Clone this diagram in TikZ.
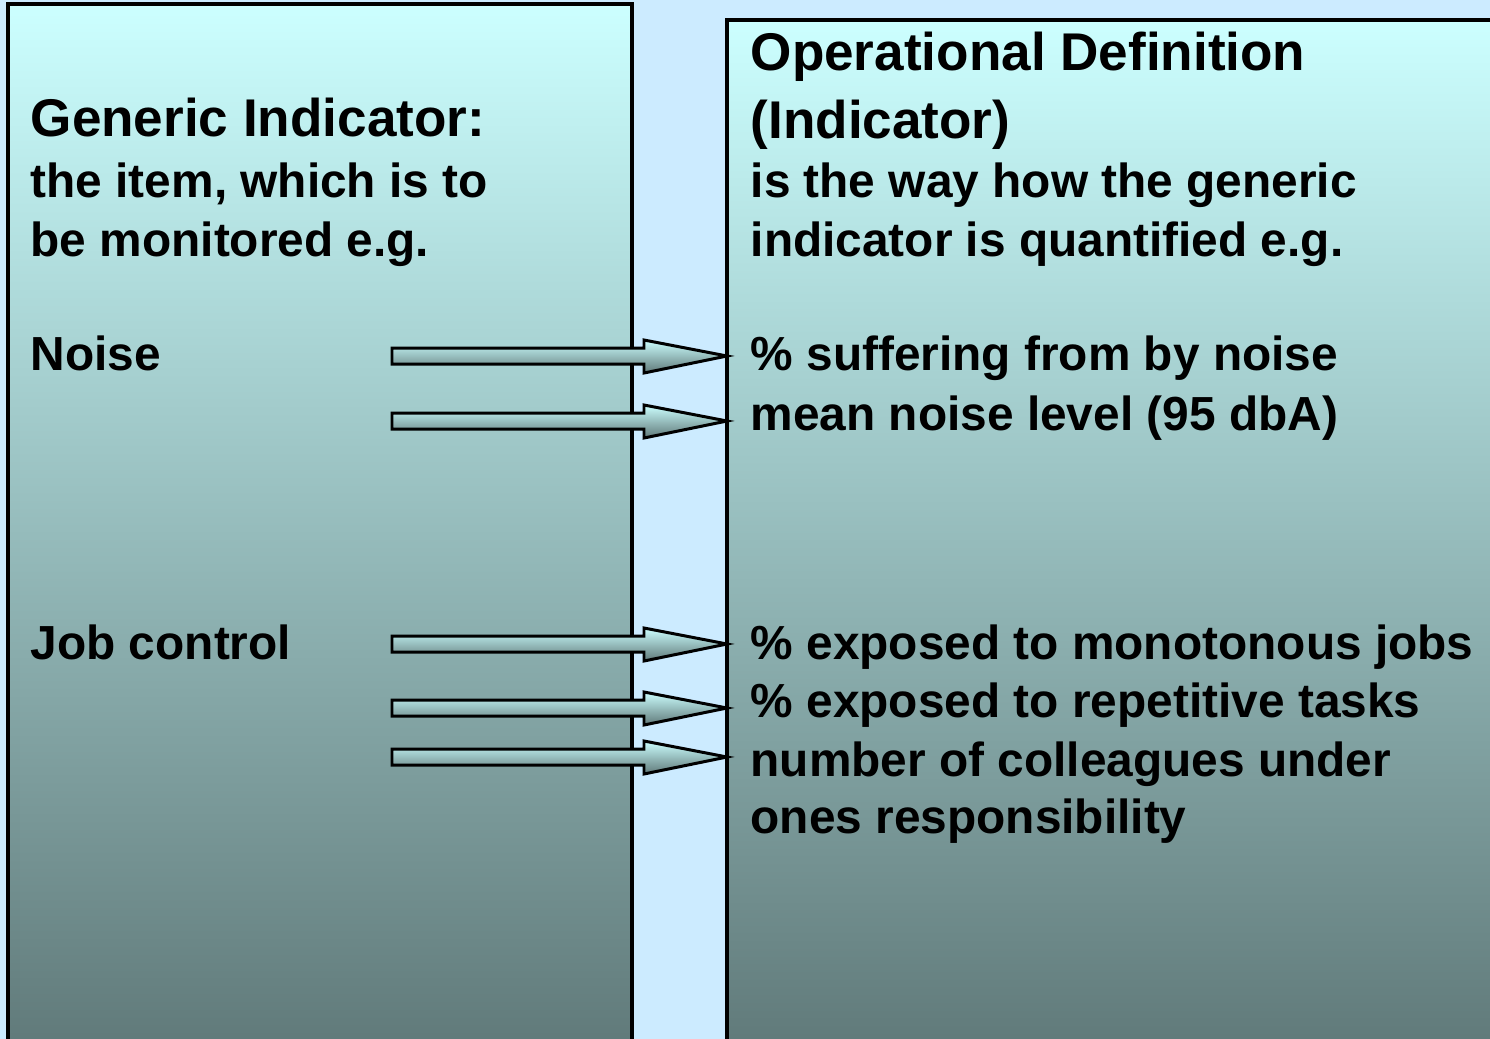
\documentclass[tikz,border=0pt]{standalone}
\usepackage{fontspec}
\setmainfont{Liberation Sans}
\usetikzlibrary{positioning}

\definecolor{bgblue}{RGB}{204,235,255}
\definecolor{boxtop}{RGB}{204,255,255}
\definecolor{boxbot}{RGB}{95,120,120}

\tikzset{
  panel/.style={draw=black,line width=1.1pt,top color=boxtop,bottom color=boxbot},
  fatarrow/.style={draw=black,line width=0.85pt,line join=miter,top color=boxtop,bottom color=boxbot},
  lbl/.style={anchor=base west,inner sep=0pt,font=\fontsize{13.6}{16}\selectfont\bfseries},
  head/.style={lbl,font=\fontsize{15.1}{18}\selectfont\bfseries}
}

\begin{document}
\begin{tikzpicture}[x=0.01cm,y=-0.01cm]

  \useasboundingbox (0,0) rectangle (1490,1039);
  \clip (0,0) rectangle (1490,1039);
  \fill[bgblue] (0,0) rectangle (1490,1039);

  % the two panels
  \draw[panel] (8,4) rectangle (632,1060);
  \draw[panel] (727,20) rectangle (1500,1060);

  % left panel
  \node[head] (gen1) at (30,136) {Generic Indicator:};
  \node[lbl] (gen2) at (30,197) {the item, which is to};
  \node[lbl] (gen3) at (30,256) {be monitored e.g.};
  \node[lbl] (noise) at (30,370) {Noise};
  \node[lbl] (jobctl) at (30,659) {Job control};

  % right panel
  \node[head] (opdef1) at (750,70) {Operational Definition};
  \node[head] (opdef2) at (750,138) {(Indicator)};
  \node[lbl] (opdef3) at (750,197) {is the way how the generic};
  \node[lbl] (opdef4) at (750,256) {indicator is quantified e.g.};
  \node[lbl] (suffer) at (750,370) {\% suffering from by noise};
  \node[lbl] (level) at (750,430) {mean noise level (95 dbA)};
  \node[lbl] (mono) at (750,659) {\% exposed to monotonous jobs};
  \node[lbl] (repet) at (750,717) {\% exposed to repetitive tasks};
  \node[lbl] (colleag) at (750,776) {number of colleagues under};
  \node[lbl] (respons) at (750,833) {ones responsibility};

  % block arrows
  \foreach \n/\y in {a/356,b/421,c/644,d/708,e/757}{
    \coordinate (s\n) at (392,\y);
    \coordinate (t\n) at (727,\y);
    \draw[fatarrow] (s\n) ++(0,-8) -- ++(252,0) -- ++(0,-8) -- (t\n)
      -- ++(-83,17) -- ++(0,-9) -- ++(-252,0) -- cycle;
  }

\end{tikzpicture}
\end{document}
